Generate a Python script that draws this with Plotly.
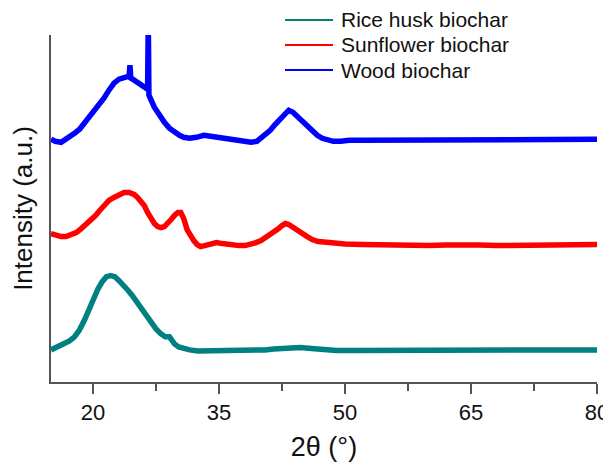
import plotly.graph_objects as go

# 2-theta positions (degrees) and intensities (a.u.)
wood_x = [15.0, 15.5, 16.2, 17.0, 17.8, 18.4, 19.0, 19.6, 20.1, 20.7, 21.3, 21.9, 22.5, 23.1, 23.7,
          24.3, 24.4, 24.5, 24.9, 25.5, 26.1, 26.5, 26.58, 26.66, 27.3, 27.9, 28.5, 29.1, 29.7,
          30.3, 30.8, 31.5, 32.3, 33.2, 34.0, 34.8, 35.6, 36.4, 37.2, 38.0, 38.8, 39.5, 40.0,
          40.6, 41.1, 41.7, 42.3, 42.8, 43.3, 43.8, 44.3, 44.9, 45.5, 46.1, 46.7, 47.3, 48.0,
          48.6, 49.5, 50.5, 52, 54, 56, 58, 60, 62, 64, 66, 68, 70, 72, 74, 76, 78, 80]
wood_y = [242, 240, 239, 243, 248, 252, 258, 264, 271, 277, 283, 291, 298, 302, 304,
          305, 316, 303, 301, 297, 294, 292, 362, 286, 274, 266, 259, 253, 249,
          246, 244, 243, 244, 246, 245, 244, 243, 241, 240, 239, 239, 240, 243,
          247, 251, 257, 263, 268, 271, 269, 265, 259, 254, 249, 246, 243, 241,
          240, 240, 241, 241, 241, 241, 241.5, 241, 241, 241.5, 241, 241, 241, 241, 241.5, 242, 242, 242]

sun_x = [15.0, 15.6, 16.2, 16.8, 17.4, 18.0, 18.6, 19.2, 19.75, 20.3, 20.8, 21.3, 21.9, 22.5,
         23.1, 23.7, 24.3, 24.9, 25.3, 25.7, 26.1, 26.5, 26.9, 27.3, 27.7, 28.1, 28.5, 28.9,
         29.3, 29.7, 30.1, 30.45, 30.8, 31.2, 31.6, 32.0, 32.4, 32.8, 33.3, 34.0, 34.7, 35.4,
         36.0, 36.7, 37.4, 38.1, 38.8, 39.4, 40.0, 40.6, 41.1, 41.6, 42.1, 42.5, 42.9, 43.3,
         43.8, 44.3, 44.9, 45.5, 46.1, 46.8, 47.5, 48.3, 49.1, 50, 52, 54, 56, 58, 60, 62, 64,
         66, 68, 70, 72, 74, 76, 78, 80]
sun_y = [148, 146, 145, 145, 147, 149, 153, 157, 161, 166, 171, 176, 181, 184,
         187, 189, 189, 187, 184, 180, 176, 169, 163, 158, 155, 154, 155, 158,
         162, 166, 169, 169, 163, 152, 146, 141, 137, 135, 136, 138, 139, 138,
         137, 136, 136, 136, 137, 139, 141, 144, 147, 150, 153, 156, 158, 157,
         154, 151, 148, 145, 142, 140, 139.5, 138.5, 138, 137.5, 137, 136.5, 136.5, 136, 136, 136.5, 137,
         136.5, 136, 136, 136, 136.5, 137, 137, 137]

rice_x = [15.0, 15.5, 16.0, 16.6, 17.2, 17.8, 18.4, 19.0, 19.5, 20.1, 20.6, 21.1, 21.6, 22.1,
          22.6, 23.1, 23.6, 24.1, 24.6, 25.1, 25.7, 26.3, 26.9, 27.5, 28.1, 28.6, 29.1, 29.4,
          29.7, 30.2, 30.8, 31.5, 32.5, 33.6, 35, 36.5, 37.6, 39, 40.5, 41.5, 43, 44.7, 46,
          47.5, 49, 51, 54, 57, 60, 63, 66, 70, 74, 77, 80]
rice_y = [32, 34, 36, 38, 41, 45, 52, 62, 72, 84, 93, 100, 105, 106,
          105, 101, 97, 92, 87, 81, 74, 67, 59, 53, 48, 45, 45, 41,
          38, 35, 33.5, 32, 31, 31, 31, 31, 31, 31.5, 32, 33, 34, 34.5, 33.5,
          32, 31.5, 31.5, 31.5, 32, 31.5, 31.5, 31.5, 31.5, 31.5, 31.5, 32]

series_names = ["Rice husk biochar", "Sunflower biochar", "Wood biochar"]
series_colors = ["#008080", "#ff0000", "#0000ff"]
x_ticks = [20, 35, 50, 65, 80]
x_minor = [27.5, 42.5, 57.5, 72.5]

# figure geometry (page has an 8px body margin, so the figure is 8px smaller)
W, H = 603, 458
ML, MR, MT, MB = 43, 14, 27, 84
PW, PH = W - ML - MR, H - MT - MB


def px_to_paper(fx, fy):
    return (fx - ML) / PW, 1 - (fy - MT) / PH


font_family = "Arial, Liberation Sans, sans-serif"

fig = go.Figure()
for xs, ys, name, color in zip([rice_x, sun_x, wood_x], [rice_y, sun_y, wood_y],
                               series_names, series_colors):
    fig.add_trace(go.Scatter(x=xs, y=ys, mode="lines", name=name,
                             line=dict(color=color, width=5.5)))

# legend drawn as line samples + text (matches the original compact spacing)
for i, (name, color) in enumerate(zip(series_names, series_colors)):
    fy = 12 + 25 * i
    x0, y0 = px_to_paper(277, fy)
    x1, _ = px_to_paper(325, fy)
    xt, _ = px_to_paper(331, fy)
    fig.add_shape(type="line", xref="paper", yref="paper", x0=x0, x1=x1, y0=y0, y1=y0,
                  line=dict(color=color, width=2))
    fig.add_annotation(xref="paper", yref="paper", x=xt, y=y0, text=name, showarrow=False,
                       xanchor="left", yanchor="middle",
                       font=dict(size=21, family=font_family, color="#111111"))

fig.update_layout(
    width=W, height=H,
    margin=dict(l=ML, r=MR, t=MT, b=MB, autoexpand=False),
    paper_bgcolor="white", plot_bgcolor="white",
    font=dict(family=font_family, color="#111111"),
    showlegend=False,
    xaxis=dict(range=[15, 80], tickmode="array", tickvals=x_ticks,
               ticks="outside", ticklen=10, tickwidth=1.5, tickcolor="#555555",
               showline=True, linecolor="#555555", linewidth=2, showgrid=False, zeroline=False,
               tickfont=dict(size=22),
               minor=dict(tickvals=x_minor, ticks="outside", ticklen=7, tickwidth=1.5,
                          tickcolor="#555555", showgrid=False),
               title=dict(text="2θ (°)", font=dict(size=27), standoff=13)),
    yaxis=dict(range=[0, 346], showticklabels=False, ticks="", showline=True,
               linecolor="#555555", linewidth=2, showgrid=False, zeroline=False,
               title=dict(text="Intensity (a.u.)", font=dict(size=26), standoff=12)),
)

fig.write_html("out.html")
